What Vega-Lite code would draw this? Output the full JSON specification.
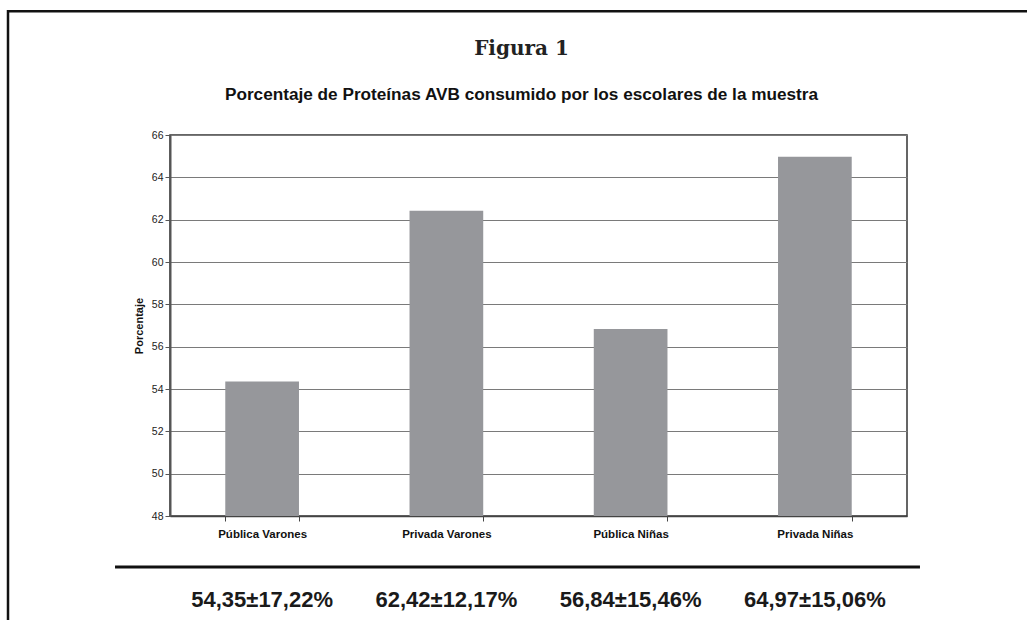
{
  "$schema": "https://vega.github.io/schema/vega-lite/v6.json",
  "width": 737,
  "height": 381,
  "autosize": {"type": "none"},
  "padding": {"left": 170, "top": 135, "right": 120, "bottom": 104},
  "background": "white",
  "title": {
    "text": "Figura 1",
    "subtitle": "Porcentaje de Proteínas AVB consumido por los escolares de la muestra",
    "anchor": "middle",
    "frame": "group",
    "font": "DejaVu Serif",
    "fontSize": 20,
    "fontWeight": "bold",
    "color": "#222",
    "subtitleFont": "Liberation Sans",
    "subtitleFontSize": 17.2,
    "subtitleFontWeight": "bold",
    "subtitleColor": "#111",
    "subtitlePadding": 27,
    "offset": -93,
    "dx": -17
  },
  "config": {
    "font": "Liberation Sans",
    "view": {"stroke": "#333", "strokeWidth": 1.5}
  },
  "layer": [
    {
      "data": {
        "values": [
          {"grupo": "Pública  Varones", "valor": 54.35, "etiqueta": "54,35±17,22%"},
          {"grupo": "Privada Varones", "valor": 62.42, "etiqueta": "62,42±12,17%"},
          {"grupo": "Pública  Niñas", "valor": 56.84, "etiqueta": "56,84±15,46%"},
          {"grupo": "Privada  Niñas", "valor": 64.97, "etiqueta": "64,97±15,06%"}
        ]
      },
      "layer": [
        {
          "mark": {"type": "bar", "color": "#96979b"},
          "encoding": {
            "x": {
              "field": "grupo",
              "type": "nominal",
              "sort": null,
              "scale": {"paddingInner": 0.6, "paddingOuter": 0.3},
              "axis": {
                "title": null,
                "labelAngle": 0,
                "labelFontSize": 11.5,
                "labelFontWeight": "bold",
                "labelColor": "#111",
                "labelPadding": 7,
                "tickSize": 5,
                "tickColor": "#444",
                "domainColor": "#444",
                "domainWidth": 1.5,
                "tickBand": "extent"
              }
            },
            "y": {
              "field": "valor",
              "type": "quantitative",
              "scale": {"domain": [48, 66], "zero": false, "nice": false},
              "axis": {
                "values": [48, 50, 52, 54, 56, 58, 60, 62, 64, 66],
                "title": "Porcentaje",
                "titleFontSize": 11,
                "titleFontWeight": "bold",
                "titleColor": "#111",
                "titlePadding": 7,
                "labelFontSize": 10.5,
                "labelColor": "#222",
                "labelPadding": 2,
                "tickSize": 5,
                "tickColor": "#555",
                "domainColor": "#555",
                "domainWidth": 2,
                "grid": true,
                "gridColor": "#7a7a7a",
                "gridWidth": 1
              }
            },
            "y2": {"datum": 48}
          }
        },
        {
          "mark": {
            "type": "text",
            "font": "Liberation Sans",
            "fontSize": 22,
            "fontWeight": "bold",
            "color": "#1a1a1a",
            "baseline": "middle",
            "align": "center"
          },
          "encoding": {
            "x": {"field": "grupo", "type": "nominal", "sort": null},
            "y": {"datum": 44.03, "type": "quantitative"},
            "text": {"field": "etiqueta"}
          }
        }
      ]
    },
    {
      "data": {"values": [{}]},
      "layer": [
        {
          "mark": {"type": "rect", "fill": null, "stroke": "#111", "strokeWidth": 2.5},
          "encoding": {
            "x": {
              "datum": -0.2198,
              "type": "quantitative",
              "scale": {"domain": [0, 1], "zero": false, "nice": false},
              "axis": null
            },
            "x2": {"datum": 1.3},
            "y": {"datum": 71.85, "type": "quantitative"},
            "y2": {"datum": 38}
          }
        },
        {
          "mark": {"type": "rule", "stroke": "#111", "strokeWidth": 3},
          "encoding": {
            "x": {"datum": -0.0746, "type": "quantitative"},
            "x2": {"datum": 1.0176},
            "y": {"datum": 45.59, "type": "quantitative"}
          }
        }
      ]
    }
  ],
  "resolve": {"scale": {"x": "independent"}, "axis": {"x": "independent"}}
}
